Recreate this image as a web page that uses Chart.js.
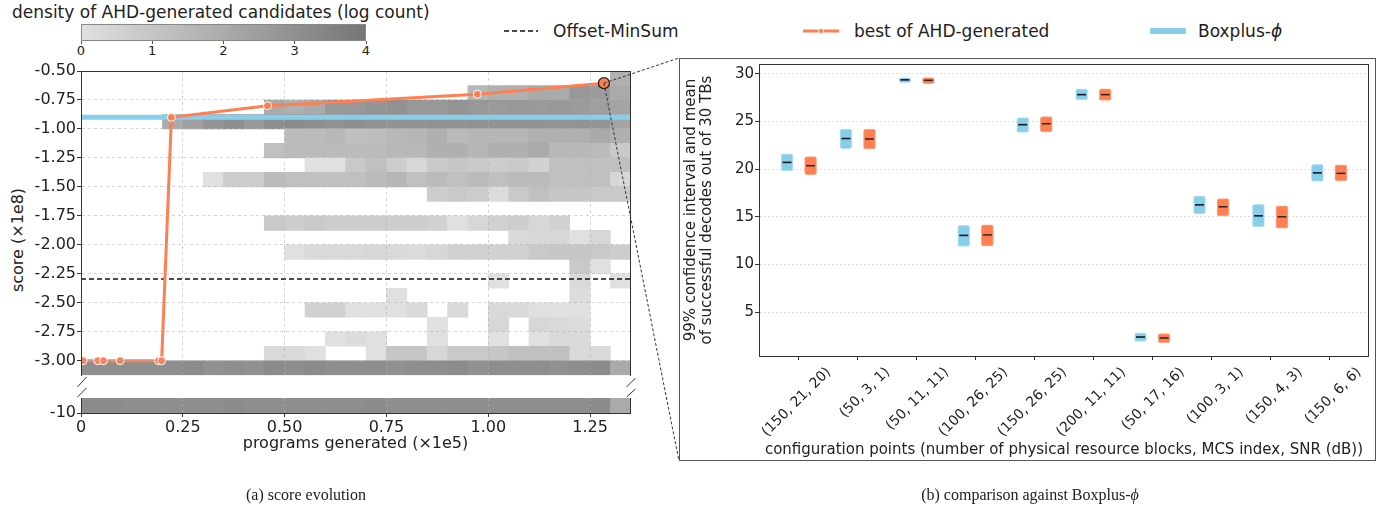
<!DOCTYPE html>
<html>
<head>
<meta charset="utf-8">
<script src="https://cdn.jsdelivr.net/npm/chart.js"></script>
<style>
  html, body { margin: 0; padding: 0; background: #fff; }
  body { width: 1391px; height: 514px; position: relative; overflow: hidden; font-family: 'DejaVu Sans', sans-serif; color: #222; }
  canvas { position: absolute; }
  .txt { position: absolute; white-space: nowrap; line-height: 1; }
  .leg { position: absolute; top: 22px; font-size: 17px; line-height: 18px; white-space: nowrap; }
  .leg svg { position: absolute; top: 0; }
  .cap { position: absolute; top: 486px; font-family: 'Liberation Serif', serif; font-size: 16px; transform: translateX(-50%); white-space: nowrap; }
</style>
</head>
<body>

<div class="txt" id="cbarTitle" style="left:12px; top:4px; font-size:17px;">density of AHD-generated candidates (log count)</div>
<div id="cbar" style="position:absolute; left:81px; top:24px; width:285px; height:17px; box-sizing:border-box; border:1px solid #888; background:linear-gradient(to right, rgb(224,224,224), rgb(118,118,118));"></div>
<div id="cbarTicks"></div>

<div class="leg" style="left:504px;">
  <svg width="36" height="18"><line x1="0" y1="9" x2="34" y2="9" stroke="#111" stroke-width="1.6" stroke-dasharray="5,3"/></svg>
  <span style="position:absolute; left:49px;">Offset-MinSum</span>
</div>
<div class="leg" style="left:803px;">
  <svg width="38" height="18"><line x1="0" y1="9" x2="36" y2="9" stroke="#ff7f50" stroke-width="3"/><circle cx="18" cy="9" r="2.6" fill="#ff7f50" stroke="#fff" stroke-width="0.8"/></svg>
  <span style="position:absolute; left:51px;">best of AHD-generated</span>
</div>
<div class="leg" style="left:1150px;">
  <svg width="38" height="18"><line x1="0" y1="9" x2="36" y2="9" stroke="#87ceeb" stroke-width="6"/></svg>
  <span style="position:absolute; left:48px;">Boxplus-<i>ϕ</i></span>
</div>

<div class="txt" style="left:18px; top:240px; font-size:16px; transform:translate(-50%,-50%) rotate(-90deg);">score (×1e8)</div>

<canvas id="scoreTop" width="660" height="322" style="left:0; top:60px;"></canvas>
<canvas id="scoreFloor" width="660" height="72" style="left:0; top:390px;"></canvas>

<div style="position:absolute; left:679px; top:58px; width:697px; height:403px; box-sizing:border-box; border:1.5px solid #555;"></div>
<canvas id="compare" width="695" height="402" style="left:680px; top:58px;"></canvas>

<canvas id="overlay" width="1391" height="514" style="left:0; top:0; pointer-events:none;"></canvas>

<div class="cap" style="left:306px;">(a) score evolution</div>
<div class="cap" style="left:1030px;">(b) comparison against Boxplus-<i>ϕ</i></div>

<script>
// ---------- (a) score evolution ----------
const binWidth = 0.05;    // programs (x1e5) per heatmap column
const binHeight = 0.125;  // score (x1e8) per heatmap row
const scoreRowTops = [-0.5, -0.625, -0.75, -0.875, -1.0, -1.125, -1.25, -1.375, -1.5, -1.625,
  -1.75, -1.875, -2.0, -2.125, -2.25, -2.375, -2.5, -2.625, -2.75, -2.875, -3.0];
const _ = null;
// log count per cell, 27 columns (0 .. 1.35), one row per score bin
const densityRows = [
  [_,_,_,_,_,_,_,_,_,_,_,_,_,_,_,_,_,_,_,_,_,_,_,_,_,_,1.8],
  [_,_,_,_,_,_,_,_,_,_,_,_,_,_,_,_,_,_,_,1.6,1.8,1.8,2.05,2.05,2.7,2.55,2.05],
  [_,_,_,_,_,_,_,_,_,2.05,1.8,2.05,2.7,2.7,2.85,3.0,2.7,2.7,2.85,2.7,2.65,2.7,2.65,2.7,2.6,2.45,2.25],
  [_,_,_,_,2.05,2.45,2.85,3.1,2.7,3.1,3.2,3.1,3.0,3.1,3.0,2.9,2.9,3.0,2.9,3.0,2.9,2.9,2.9,2.85,2.9,2.85,2.25],
  [_,_,_,_,_,_,_,_,_,_,1.4,1.4,1.5,1.2,1.3,1.5,1.6,1.8,1.45,1.6,1.6,1.6,1.8,1.8,1.8,2.05,1.8],
  [_,_,_,_,_,_,_,_,_,1.2,1.4,1.4,1.4,1.4,1.4,1.5,1.5,1.8,1.8,1.6,1.8,1.8,2.05,1.5,1.5,1.4,0.85],
  [_,_,_,_,_,_,_,_,_,_,_,0,0,0.85,1.2,0.7,0.35,0.85,1.0,0.85,0.7,0.85,0.55,1.2,1.2,1.2,1.2],
  [_,_,_,_,_,_,0,0.7,0.7,1.4,1.2,1.2,1.2,1.2,1.4,1.6,1.2,1.4,1.2,1.4,1.2,1.4,1.4,1.2,1.2,1.2,0.35],
  [_,_,_,_,_,_,_,_,_,_,_,_,_,_,_,_,_,0.7,0.85,0.7,0.15,0.85,1.2,1.0,1.0,0.85,0.85],
  [_,_,_,_,_,_,_,_,_,_,_,_,_,_,_,_,_,_,_,_,_,_,_,_,_,_,_],
  [_,_,_,_,_,_,_,_,_,0.85,0.7,0.85,0.7,0.7,0.7,0.7,0.7,0.55,0,0.35,0.55,0.7,0.35,0.55,_,_,_],
  [_,_,_,_,_,_,_,_,_,_,_,_,_,_,_,_,_,_,_,_,_,0.25,0.35,0.35,0,0.35,_],
  [_,_,_,_,_,_,_,_,_,_,0,0.25,0.25,0.25,0.35,0.25,0.15,0.35,0.55,0.55,0.55,0.55,0.85,1.0,1.0,0.85,0.7],
  [_,_,_,_,_,_,_,_,_,_,_,_,_,_,_,_,_,_,_,_,_,_,_,_,0.85,0,_],
  [_,_,_,_,_,_,_,_,_,_,_,_,_,_,_,_,_,_,_,_,0,_,_,_,0.25,_,0],
  [_,_,_,_,_,_,_,_,_,_,_,_,_,_,_,0,_,_,_,_,_,_,_,_,0.15,_,_],
  [_,_,_,_,_,_,_,_,_,_,_,0.55,0.55,0,0,0,0.25,_,0.25,_,0.25,0.25,0,0,0,_,_],
  [_,_,_,_,_,_,_,_,_,_,_,_,_,_,_,_,_,0,_,_,0.35,_,0.35,0.25,0.15,_,_],
  [_,_,_,_,_,_,_,_,_,_,_,_,0,0.15,0,_,_,0,_,_,0,_,0,0.25,0.25,_,_],
  [_,_,_,_,_,_,_,_,_,0.25,0.25,0,_,_,0,1.0,1.0,0.35,0.85,0.85,1.0,1.2,1.2,1.2,0.25,0.25,_],
  [3.1,3.1,3.1,3.1,3.1,3.2,3.0,3.1,3.0,3.2,3.1,3.2,3.1,3.1,3.1,3.0,3.1,3.1,3.2,3.0,3.1,3.1,3.1,3.0,3.1,3.2,2.05]
];
// failed candidates parked at score -10
const floorRowTop = -9.875;
const floorDensity = [3.2,3.2,3.1,3.1,3.1,3.1,3.1,3.2,3.1,3.1,3.1,3.1,3.1,3.1,3.2,3.1,3.1,3.1,3.1,3.1,3.1,3.1,3.1,3.1,3.1,3.2,2.05];

const bestX = [0.005, 0.041, 0.055, 0.096, 0.19, 0.198, 0.222, 0.458, 0.973, 1.284];
const bestY = [-3.0, -3.0, -3.0, -3.0, -3.0, -3.0, -0.90, -0.80, -0.70, -0.605];
const boxplusScore = -0.90;
const offsetMinSumScore = -2.295;

const programTicks = [0, 0.25, 0.5, 0.75, 1.0, 1.25];
const scoreTicks = [-0.5, -0.75, -1.0, -1.25, -1.5, -1.75, -2.0, -2.25, -2.5, -2.75, -3.0];
const colorTicks = [0, 1, 2, 3, 4];

// ---------- (b) comparison against Boxplus-phi ----------
const configLabels = ['(150, 21, 20)', '(50, 3, 1)', '(50, 11, 11)', '(100, 26, 25)', '(150, 26, 25)',
  '(200, 11, 11)', '(50, 17, 16)', '(100, 3, 1)', '(150, 4, 3)', '(150, 6, 6)'];
const boxplusLow  = [19.8, 22.15, 29.05, 11.9, 23.85, 27.25, 1.95, 15.3, 13.95, 18.7];
const boxplusHigh = [21.6, 24.2, 29.6, 14.1, 25.4, 28.4, 2.85, 17.2, 16.3, 20.5];
const boxplusMean = [20.7, 23.2, 29.35, 13.05, 24.65, 27.8, 2.4, 16.25, 15.1, 19.6];
const ahdLow  = [19.4, 22.1, 28.95, 11.95, 23.9, 27.2, 1.8, 15.1, 13.8, 18.75];
const ahdHigh = [21.3, 24.2, 29.6, 14.15, 25.5, 28.4, 2.75, 16.9, 16.15, 20.45];
const ahdMean = [20.35, 23.15, 29.3, 13.1, 24.75, 27.8, 2.3, 16.05, 15.0, 19.55];
const countTicks = [5, 10, 15, 20, 25, 30];

const orange = '#ff7f50';
const sky = '#87ceeb';
const axisColor = '#333';
const gridColor = 'rgba(176,176,176,0.55)';
Chart.defaults.font.family = "'DejaVu Sans', sans-serif";
Chart.defaults.color = '#222';

const greyFor = (v) => {
    const g = Math.round(224 - v * 26.5);
    return `rgb(${g},${g},${g})`;
};

function buildCells(rows, tops) {
    const cells = [], colors = [];
    rows.forEach((row, r) => {
        row.forEach((v, c) => {
            if (v === null) return;
            cells.push({ x: (c + 0.5) * binWidth, y: [tops[r] - binHeight, tops[r]] });
            colors.push(greyFor(v));
        });
    });
    return { cells, colors };
}

// colorbar tick labels
const cbTicks = document.getElementById('cbarTicks');
colorTicks.forEach(t => {
    const x = 81 + (t / 4) * 285;
    const mark = document.createElement('div');
    mark.style.cssText = `position:absolute; left:${x - 0.5}px; top:41px; width:1px; height:3px; background:#555;`;
    cbTicks.appendChild(mark);
    const lab = document.createElement('div');
    lab.className = 'txt';
    lab.style.cssText = `left:${x}px; top:44px; font-size:13px; transform:translateX(-50%);`;
    lab.textContent = t;
    cbTicks.appendChild(lab);
});

const xMax = 1.348;
const xTickLabel = v => v === 0 ? '0' : v.toFixed(2);
const pinTicks = list => scale => { scale.ticks = list.map(v => ({ value: v })); };
// fixed axis box, no extra room for labels hanging past the ends
const fixWidth = w => s => { s.width = w; s.paddingTop = 0; s.paddingBottom = 0; };
const fixHeight = h => s => { s.height = h; s.paddingLeft = 0; s.paddingRight = 0; };

const mainCells = buildCells(densityRows, scoreRowTops);
const floorCells = buildCells([floorDensity], [floorRowTop]);
const lastIdx = bestX.length - 1;

const baseOptions = {
    responsive: false,
    animation: false,
    events: [],
    plugins: { legend: { display: false }, tooltip: { enabled: false } }
};

const upper = new Chart(document.getElementById('scoreTop'), {
    type: 'bar',
    data: {
        datasets: [
            {
                type: 'line', label: 'best of AHD-generated',
                data: bestX.map((x, i) => ({ x, y: bestY[i] })),
                borderColor: orange, borderWidth: 3, backgroundColor: orange,
                pointRadius: bestX.map((_, i) => i === lastIdx ? 5.5 : 4),
                pointBackgroundColor: orange,
                pointBorderColor: bestX.map((_, i) => i === lastIdx ? '#222' : '#fff'),
                pointBorderWidth: bestX.map((_, i) => i === lastIdx ? 1.3 : 1),
                order: 1
            },
            {
                type: 'line', label: 'Boxplus-ϕ',
                data: [{ x: 0, y: boxplusScore }, { x: xMax, y: boxplusScore }],
                borderColor: sky, borderWidth: 5, pointRadius: 0, order: 2
            },
            {
                type: 'line', label: 'Offset-MinSum',
                data: [{ x: 0, y: offsetMinSumScore }, { x: xMax, y: offsetMinSumScore }],
                borderColor: '#111', borderWidth: 1.5, borderDash: [5, 3], pointRadius: 0, order: 3
            },
            {
                label: 'density', data: mainCells.cells, backgroundColor: mainCells.colors,
                barPercentage: 1, categoryPercentage: 1, grouped: false, borderWidth: 0, order: 4
            }
        ]
    },
    options: {
        ...baseOptions,
        layout: { padding: { top: 11, right: 30, bottom: 5, left: 0 } },
        scales: {
            x: {
                type: 'linear', position: 'top', min: 0, max: xMax, offset: false,
                grid: { color: gridColor, z: 1, drawTicks: false, offset: false },
                border: { display: true, color: axisColor, dash: [3, 3], z: 2 },
                ticks: { display: false },
                afterBuildTicks: pinTicks(programTicks),
                afterFit: fixHeight(0)
            },
            y: {
                type: 'linear', min: -3.125, max: -0.5,
                grid: { color: gridColor, z: 1, tickLength: 4, tickColor: axisColor, tickBorderDash: [] },
                border: { display: true, color: axisColor, dash: [3, 3], z: 2 },
                ticks: { font: { size: 16 }, padding: 1, callback: v => v.toFixed(2) },
                afterBuildTicks: pinTicks(scoreTicks),
                afterFit: fixWidth(81)
            },
            y2: {
                type: 'linear', position: 'right', min: -3.125, max: -0.5,
                grid: { display: false }, border: { display: true, color: axisColor, z: 2 },
                ticks: { display: false },
                afterFit: fixWidth(0)
            }
        }
    }
});

new Chart(document.getElementById('scoreFloor'), {
    type: 'bar',
    data: {
        datasets: [{
            label: 'density', data: floorCells.cells, backgroundColor: floorCells.colors,
            barPercentage: 1, categoryPercentage: 1, grouped: false, borderWidth: 0
        }]
    },
    options: {
        ...baseOptions,
        layout: { padding: { top: 8, right: 30, bottom: 0, left: 0 } },
        scales: {
            x: {
                type: 'linear', position: 'bottom', min: 0, max: xMax, offset: false,
                grid: { color: gridColor, z: 1, tickLength: 4, tickColor: axisColor, tickBorderDash: [], offset: false },
                border: { display: true, color: axisColor, dash: [3, 3], z: 2 },
                ticks: { font: { size: 16 }, padding: 1, maxRotation: 0, autoSkip: false, callback: xTickLabel },
                afterBuildTicks: pinTicks(programTicks),
                title: { display: true, text: 'programs generated (×1e5)', font: { size: 16 }, padding: { top: 0, bottom: 9 } },
                afterFit: fixHeight(49)
            },
            y: {
                type: 'linear', min: -10, max: -9.875,
                grid: { display: true, drawOnChartArea: false, tickLength: 4, tickColor: axisColor },
                border: { display: true, color: axisColor, z: 2 },
                ticks: { font: { size: 16 }, padding: 1, callback: v => String(v) },
                afterBuildTicks: pinTicks([-10]),
                afterFit: fixWidth(81)
            },
            y2: {
                type: 'linear', position: 'right', min: -10, max: -9.875,
                grid: { display: false }, border: { display: true, color: axisColor, z: 2 },
                ticks: { display: false },
                afterFit: fixWidth(0)
            }
        }
    }
});

const ciBoxes = (lo, hi, dx) => lo.map((l, i) => ({ x: i + dx, y: [l, hi[i]] }));
const meanMarks = (means, dx) => means.map((m, i) => ({ x: i + dx, y: m }));

new Chart(document.getElementById('compare'), {
    type: 'bar',
    data: {
        datasets: [
            {
                type: 'line', label: 'Boxplus-ϕ mean', data: meanMarks(boxplusMean, -0.2), showLine: false,
                pointStyle: 'line', pointRadius: 4.5, pointBorderColor: '#1a1a1a', pointBorderWidth: 1.6, order: 1
            },
            {
                type: 'line', label: 'AHD mean', data: meanMarks(ahdMean, 0.2), showLine: false,
                pointStyle: 'line', pointRadius: 4.5, pointBorderColor: '#3b2a22', pointBorderWidth: 1.6, order: 1
            },
            {
                label: 'Boxplus-ϕ', data: ciBoxes(boxplusLow, boxplusHigh, -0.2),
                backgroundColor: sky, borderColor: '#b9e3f4', borderWidth: 1, borderSkipped: false,
                borderRadius: 2.5, barThickness: 12, grouped: false, order: 2
            },
            {
                label: 'best of AHD-generated', data: ciBoxes(ahdLow, ahdHigh, 0.2),
                backgroundColor: orange, borderColor: '#ffa586', borderWidth: 1, borderSkipped: false,
                borderRadius: 2.5, barThickness: 12, grouped: false, order: 2
            }
        ]
    },
    options: {
        ...baseOptions,
        layout: { padding: { top: 3, right: 5, bottom: 0, left: 0 } },
        scales: {
            x: {
                type: 'linear', position: 'bottom', min: -0.675, max: 9.675, offset: false,
                grid: { drawOnChartArea: false, tickLength: 4, tickColor: axisColor, offset: false },
                border: { display: true, color: axisColor },
                ticks: {
                    font: { size: 14 }, padding: 4, labelOffset: 30, autoSkip: false,
                    minRotation: 45, maxRotation: 45, callback: v => configLabels[v]
                },
                afterBuildTicks: pinTicks(configLabels.map((_, i) => i)),
                title: { display: true, text: 'configuration points (number of physical resource blocks, MCS index, SNR (dB))', font: { size: 15 }, padding: { top: 0, bottom: 1 } },
                afterFit: fixHeight(104)
            },
            y: {
                type: 'linear', min: 0.41, max: 31.0,
                grid: { color: '#dedede', tickLength: 4, tickColor: axisColor, tickBorderDash: [] },
                border: { display: true, color: axisColor, dash: [2, 2] },
                ticks: { font: { size: 15 }, padding: 1 },
                afterBuildTicks: pinTicks(countTicks),
                title: {
                    display: true,
                    text: ['99% confidence interval and mean', 'of successful decodes out of 30 TBs'],
                    font: { size: 15, lineHeight: 1.05 }, padding: { top: 3, bottom: 0 }
                },
                afterFit: fixWidth(79)
            },
            x2: {
                type: 'linear', position: 'top', min: -0.675, max: 9.675,
                grid: { display: false }, border: { display: true, color: axisColor },
                ticks: { display: false }, afterFit: fixHeight(0)
            },
            y2: {
                type: 'linear', position: 'right', min: 0.41, max: 31.0,
                grid: { display: false }, border: { display: true, color: axisColor },
                ticks: { display: false }, afterFit: fixWidth(0)
            }
        }
    }
});

// axis break marks and zoom connectors
const ov = document.getElementById('overlay').getContext('2d');
ov.strokeStyle = '#333';
ov.lineWidth = 1;
[[81, 387, 377], [81, 397, 388], [630, 387, 378], [630, 397, 389]].forEach(([x, y1, y2]) => {
    ov.beginPath();
    ov.moveTo(x - 3.5, y1);
    ov.lineTo(x + 5.5, y2);
    ov.stroke();
});
const hx = upper.scales.x.getPixelForValue(bestX[lastIdx]);
const hy = upper.scales.y.getPixelForValue(bestY[lastIdx]) + 60;
ov.setLineDash([3, 2]);
ov.beginPath();
ov.moveTo(hx, hy); ov.lineTo(679, 58);
ov.moveTo(hx, hy); ov.lineTo(679, 461);
ov.stroke();
</script>
</body>
</html>
